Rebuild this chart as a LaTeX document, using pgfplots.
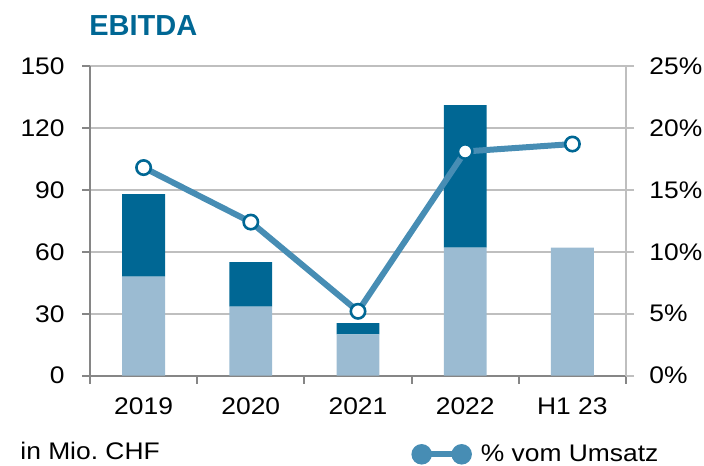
\documentclass[border=0pt]{standalone}
\usepackage{fontspec}
\setmainfont[FakeStretch=1.1]{Liberation Sans}
\newfontfamily\titlefont{Liberation Sans}
\usepackage{pgfplots}
\pgfplotsset{compat=1.18}
\definecolor{darkbar}{RGB}{0,103,148}
\definecolor{lightbar}{RGB}{155,187,210}
\definecolor{pctline}{RGB}{71,141,180}
\definecolor{gridgray}{RGB}{191,191,191}
\definecolor{axisgray}{RGB}{134,134,134}

\pgfplotsset{
  base/.style={
    at={(45pt,44.65pt)}, anchor=south west,
    scale only axis, width=268pt, height=154.85pt,
    xmin=-0.5, xmax=4.5,
    tick align=outside,
    major tick length=4pt, minor tick length=4pt,
    ticklabel style={font=\fontsize{12}{14}\selectfont, inner sep=0pt},
    /pgf/number format/assume math mode=true,
  },
}

\begin{document}
\begin{tikzpicture}
\useasboundingbox (0,0) rectangle (352pt,232.5pt);

% bars, left axis
\begin{axis}[base,
  ymin=0, ymax=150, ytick={0,30,...,150},
  axis x line*=bottom, axis y line*=left,
  x axis line style={axisgray, line width=1pt},
  y axis line style={axisgray, line width=1pt},
  ymajorgrids, grid style={gridgray, line width=0.8pt},
  xtick={0,...,4}, xticklabels={2019,2020,2021,2022,H1 23},
  major x tick style={draw=none},
  minor xtick={-0.5,0.5,...,4.5},
  minor x tick style={axisgray, line width=1pt},
  major y tick style={axisgray, line width=1pt},
  xticklabel shift=7pt, yticklabel shift=8.5pt,
  ybar stacked, bar width=0.4,
]
\addplot[fill=lightbar, draw=none] coordinates {(0,48)(1,33.4)(2,20)(3,62)(4,62)};
\addplot[fill=darkbar, draw=none] coordinates {(0,40)(1,21.6)(2,5.5)(3,69)(4,0)};
\end{axis}

% percent line, right axis
\begin{axis}[base,
  ymin=0, ymax=25, ytick={0,5,...,25},
  axis x line=none, axis y line*=right,
  y axis line style={gridgray, line width=0.8pt},
  major y tick style={gridgray, line width=0.8pt},
  yticklabel={\pgfmathprintnumber{\tick}\%},
  yticklabel shift=7.5pt,
  clip=false,
  legend style={at={(0.599,-0.2538)}, anchor=west, draw=none, fill=none,
    inner sep=0pt, font=\fontsize{12}{14}\selectfont},
  legend image code/.code={
    \draw[pctline, line width=3pt] (0pt,0pt) -- (20pt,0pt);
    \fill[pctline] (0pt,0pt) circle (3.6pt) (20pt,0pt) circle (3.6pt);
  },
]
\addplot[pctline, line width=3pt, mark=*, mark size=3.6pt,
  mark options={fill=white, draw=darkbar, line width=1.3pt}]
  coordinates {(0,16.8)(1,12.4)(2,5.2)(3,18.1)(4,18.7)};
\addlegendentry{\hspace{2.5pt}\% vom Umsatz}
\end{axis}

\node[anchor=base west, inner sep=0pt, text=darkbar,
  font=\fontsize{14.5}{17}\selectfont\titlefont\bfseries] at (44.5pt,214.65pt) {EBITDA};
\node[anchor=base west, inner sep=0pt,
  font=\fontsize{12}{14}\selectfont] at (10pt,2.85pt) {in Mio.\ CHF};
\end{tikzpicture}
\end{document}
